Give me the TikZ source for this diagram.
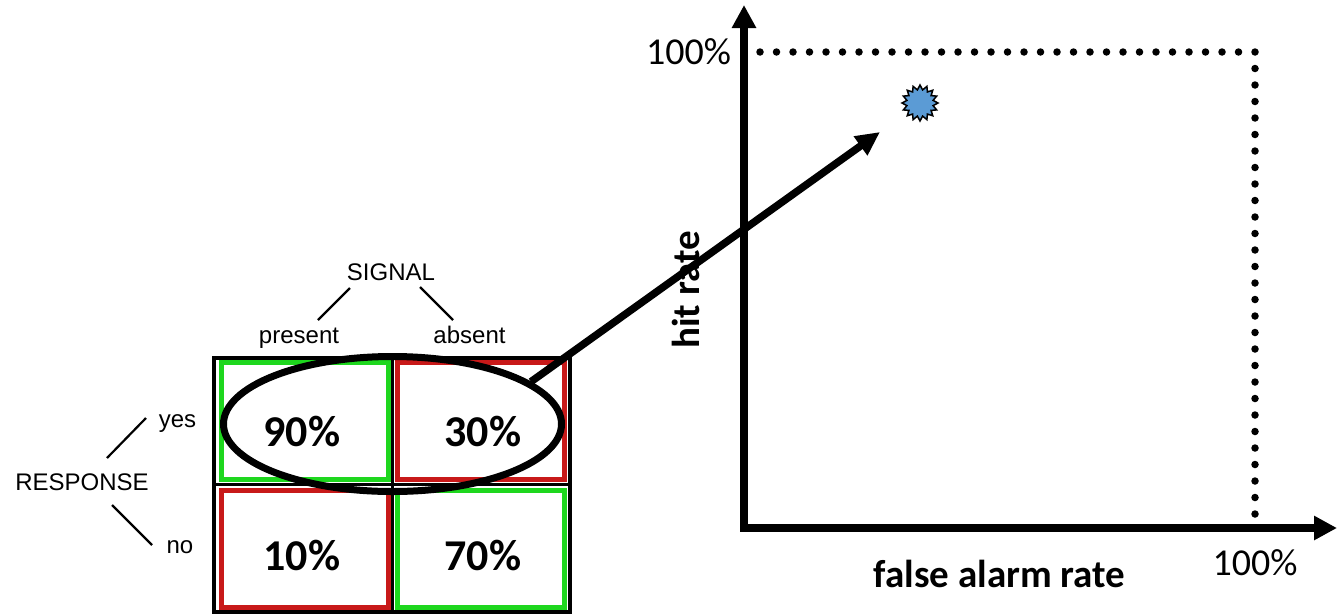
\documentclass[tikz,border=0pt]{standalone}
\usepackage{fontspec}
\setmainfont{Carlito}
\newfontfamily\tabfont{Liberation Sans}
\usepackage{tikz}
\usetikzlibrary{arrows.meta,calc,positioning,shapes.geometric}
\definecolor{okg}{RGB}{30,215,30}
\definecolor{errr}{RGB}{200,25,25}
\definecolor{burst}{RGB}{91,155,213}

\begin{document}
\begin{tikzpicture}[x=1pt,y=-1pt,
    lab/.style={font=\tabfont\fontsize{24}{28}\selectfont,inner sep=0pt,anchor=base},
    pct/.style={font=\bfseries\fontsize{44}{50}\selectfont,inner sep=0pt},
    cell/.style={draw=#1,line width=5pt,minimum width=167pt,minimum height=117pt,inner sep=0pt},
    ax/.style={font=\bfseries\fontsize{39}{44}\selectfont,inner sep=0pt},
    tick/.style={font=\fontsize{38}{42}\selectfont,inner sep=0pt},
    twig/.style={line width=2.2pt},
    big/.style={line width=7.5pt,line join=miter}]
  \useasboundingbox (0,0) rectangle (1337,614);
  % table of outcomes
  \foreach \n/\x/\y/\col in {a/304.5/421/okg, b/481/421/errr, c/304.5/549/errr, d/481/549/okg}
    \node[cell=\col] (c\n) at (\x,\y) {};
  \draw[line width=3.5pt] (214,358) rectangle (570,612);
  \draw[line width=3.5pt] (392.5,358) -- (392.5,612);
  \draw[line width=3.5pt] (214,484.5) -- (570,484.5);
  \node[pct] (pa) at (302,432) {90\%};
  \node[pct] (pb) at (483,432) {30\%};
  \node[pct] (pc) at (302,556) {10\%};
  \node[pct] (pd) at (483,556) {70\%};
  % tree labels
  \node[lab] (signal) at (391,280) {SIGNAL};
  \node[lab] (present) at (299,343) {present};
  \node[lab] (absent) at (469.5,343) {absent};
  \node[lab] (response) at (82,490) {RESPONSE};
  \node[lab] (yes) at (177.5,427) {yes};
  \node[lab] (no) at (180,553) {no};
  \draw[twig] ([shift={(-41,8)}]signal.base) -- ([shift={(19,-23)}]present.base);
  \draw[twig] ([shift={(29,7)}]signal.base) -- ([shift={(-16.5,-23)}]absent.base);
  \draw[twig] ([shift={(25,-32)}]response.base) -- ([shift={(-31.5,-9)}]yes.base);
  \draw[twig] ([shift={(30,15)}]response.base) -- ([shift={(-28,-8)}]no.base);
  % yes row picked out
  \node[draw,ellipse,line width=7pt,minimum width=338pt,minimum height=135pt,inner sep=0pt] (pick) at (392.5,424) {};
  \coordinate (aim) at (880,132);
  \draw[big,-{Triangle[length=24pt,width=22pt]}] (pick.17) -- (aim);
  % ROC space
  \coordinate (o) at (744,528);
  \coordinate (ytop) at (744,5);
  \coordinate (xend) at (1337,528);
  \draw[big,{Triangle[length=23pt,width=23pt]}-{Triangle[length=23pt,width=23pt]}] (ytop) -- (o) -- (xend);
  \coordinate (d1) at (760,52);
  \coordinate (d2) at (1255,52);
  \coordinate (d3) at (1255,523);
  \draw[line width=7.5pt,line cap=round,dash pattern=on 0pt off 16.5pt] (d1) -- (d2) -- (d3);
  \node[star,star points=16,star point ratio=1.35,draw,fill=burst,line width=1.5pt,minimum size=36pt,inner sep=0pt] (roc) at (920,103) {};
  \node[tick] (ymax) at (688.5,51.5) {100\%};
  \node[tick] (xmax) at (1255,563) {100\%};
  \node[ax,rotate=90] (hr) at (686,290) {hit rate};
  \node[ax] (far) at (999.5,573.5) {false alarm rate};
\end{tikzpicture}
\end{document}
